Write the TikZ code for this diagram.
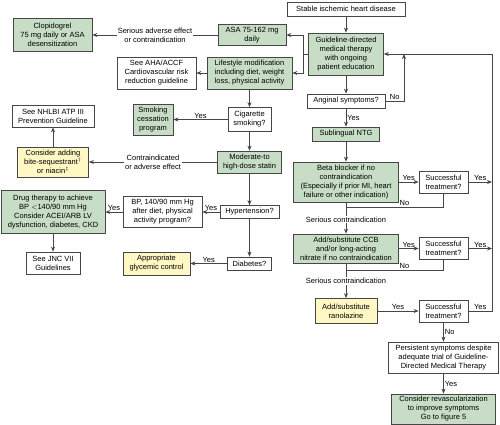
\documentclass[tikz,border=0pt]{standalone}
\usepackage{fontspec}
\setmainfont{Liberation Sans}
\usetikzlibrary{arrows.meta}
\definecolor{gdmtgreen}{RGB}{200,221,198}
\definecolor{noteyellow}{RGB}{255,248,196}
\definecolor{linegray}{RGB}{70,70,70}
\tikzset{
    box/.style={draw=linegray, line width=0.7pt, fill=white, align=center, inner sep=1pt, font=\fontsize{7.5}{9}\selectfont},
    gbox/.style={box, fill=gdmtgreen},
    ybox/.style={box, fill=noteyellow},
    link/.style={draw=linegray, line width=0.8pt},
    arr/.style={link, -{Stealth[length=5pt,width=4pt]}},
    lbl/.style={font=\fontsize{7.5}{9}\selectfont, inner sep=1pt, align=center}
}
\begin{document}
\begin{tikzpicture}[x=1pt, y=-1pt]
    \useasboundingbox (0,0) rectangle (500,425);
    % main column
    \node[box, minimum width=118pt, minimum height=14pt] (stable) at (346,9) {Stable ischemic heart disease};
    \node[gbox, minimum width=75pt, minimum height=42pt] (gdmt) at (346,54) {Guideline-directed\\medical therapy\\with ongoing\\patient education};
    \node[box, minimum width=78pt, minimum height=14pt] (angina) at (346,101) {Anginal symptoms?};
    \node[gbox, minimum width=67pt, minimum height=14pt] (ntg) at (346,134) {Sublingual NTG};
    \node[gbox, minimum width=105pt, minimum height=40pt] (beta) at (346,182) {Beta blocker if no\\contraindication\\(Especially if prior MI, heart\\failure or other indication)};
    \node[gbox, minimum width=105pt, minimum height=29pt] (ccb) at (346,248.5) {Add/substitute CCB\\and/or long-acting\\nitrate if no contraindication};
    \node[ybox, minimum width=62pt, minimum height=25pt] (rano) at (346,311) {Add/substitute\\ranolazine};
    % outcome checks
    \foreach \name/\y in {succa/182, succb/248.5, succc/311} {
        \node[box, minimum width=49pt, minimum height=22pt] (\name) at (443.5,\y) {Successful\\treatment?};
    }
    \node[box, minimum width=110pt, minimum height=31pt] (persist) at (443.5,357.5) {Persistent symptoms despite\\adequate trial of Guideline-\\Directed Medical Therapy};
    \node[gbox, minimum width=104pt, minimum height=30pt] (revasc) at (443.5,409) {Consider revascularization\\to improve symptoms\\Go to figure 5};
    % risk factor column
    \node[gbox, minimum width=68pt, minimum height=21pt] (asa) at (252,35) {ASA 75-162 mg\\daily};
    \node[gbox, minimum width=79pt, minimum height=33pt] (clop) at (52.5,35) {Clopidogrel\\75 mg daily or ASA\\desensitization};
    \node[gbox, minimum width=85pt, minimum height=32pt] (life) at (249.5,73) {Lifestyle modification\\including diet, weight\\loss, physical activity};
    \node[box, minimum width=79pt, minimum height=32pt] (aha) at (156.5,73) {See AHA/ACCF\\Cardiovascular risk\\reduction guideline};
    \node[box, minimum width=43pt, minimum height=24pt] (cig) at (249.5,119.5) {Cigarette\\smoking?};
    \node[gbox, minimum width=40pt, minimum height=31pt] (smoke) at (153,119.5) {Smoking\\cessation\\program};
    \node[gbox, minimum width=64pt, minimum height=22pt] (statin) at (249.5,162) {Moderate-to\\high-dose statin};
    \node[box, minimum width=82pt, minimum height=22pt] (nhlbi) at (53,116) {See NHLBI ATP III\\Prevention Guideline};
    \node[ybox, minimum width=71pt, minimum height=30pt] (bile) at (53,162) {Consider adding\\bite-sequestrant$^\dagger$\\or niacin$^\ddagger$};
    \node[box, minimum width=59pt, minimum height=13pt] (hyper) at (249.5,212) {Hypertension?};
    \node[box, minimum width=79pt, minimum height=31pt] (bp) at (162.5,212) {BP, 140/90 mm Hg\\after diet, physical\\activity program?};
    \node[gbox, minimum width=104pt, minimum height=43pt] (drug) at (53,212) {Drug therapy to achieve\\BP $<$140/90 mm Hg\\Consider ACEI/ARB LV\\dysfunction, diabetes, CKD};
    \node[box, minimum width=54pt, minimum height=22pt] (jnc) at (53,263) {See JNC VII\\Guidelines};
    \node[box, minimum width=44pt, minimum height=13pt] (diab) at (249.5,263.5) {Diabetes?};
    \node[ybox, minimum width=67pt, minimum height=23pt] (glyc) at (156.5,263.5) {Appropriate\\glycemic control};
    % junction points
    \coordinate (split) at (303,54);
    \coordinate (nojoin) at (404,54);
    \coordinate (fbtop) at (492,54);
    \coordinate (jointa) at (346,207);
    \coordinate (jointb) at (346,270);
    % therapy flow
    \draw[arr] (stable) -- (gdmt);
    \draw[arr] (gdmt) -- (angina);
    \draw[arr] (angina) -- node[lbl, right] {Yes} (ntg);
    \draw[arr] (angina.east) -| node[lbl, pos=0.25, above] {No} (nojoin);
    \draw[arr] (ntg) -- (beta);
    \draw[arr] (beta) -- node[lbl, fill=white, pos=0.55] {Serious contraindication} (ccb);
    \draw[arr] (ccb) -- node[lbl, fill=white, pos=0.5] {Serious contraindication} (rano);
    \draw[arr] (beta) -- node[lbl, above] {Yes} (succa);
    \draw[arr] (ccb) -- node[lbl, above] {Yes} (succb);
    \draw[arr] (rano) -- node[lbl, above] {Yes} (succc);
    \draw[link] (succa.south) |- node[lbl, pos=0.7, above] {No} (jointa);
    \draw[link] (succb.south) |- node[lbl, pos=0.7, above] {No} (jointb);
    \draw[arr] (succa.east) -- node[lbl, above] {Yes} (succa.east -| fbtop);
    \draw[arr] (succb.east) -- node[lbl, above] {Yes} (succb.east -| fbtop);
    \draw[arr] (succc.east) -- node[lbl, above] {Yes} (succc.east -| fbtop) -- (fbtop) -- (gdmt.east);
    \draw[arr] (succc) -- node[lbl, right] {No} (persist);
    \draw[arr] (persist) -- node[lbl, right] {Yes} (revasc);
    % risk factor flow
    \draw[link] (gdmt.west) -- (split);
    \draw[arr] (split) |- (asa.east);
    \draw[arr] (split) |- (life.east);
    \draw[arr] (asa) -- node[lbl, fill=white] {Serious adverse effect\\or contraindication} (clop);
    \draw[arr] (life) -- (aha);
    \draw[arr] (life) -- (cig);
    \draw[arr] (cig) -- node[lbl, above] {Yes} (smoke);
    \draw[arr] (cig) -- (statin);
    \draw[arr] (statin) -- node[lbl, fill=white] {Contraindicated\\or adverse effect} (bile);
    \draw[arr] (bile) -- (nhlbi);
    \draw[arr] (statin) -- (hyper);
    \draw[arr] (hyper) -- node[lbl, above] {Yes} (bp);
    \draw[arr] (bp) -- node[lbl, above] {Yes} (drug);
    \draw[arr] (drug) -- (jnc);
    \draw[arr] (hyper) -- (diab);
    \draw[arr] (diab) -- node[lbl, above] {Yes} (glyc);
\end{tikzpicture}
\end{document}
